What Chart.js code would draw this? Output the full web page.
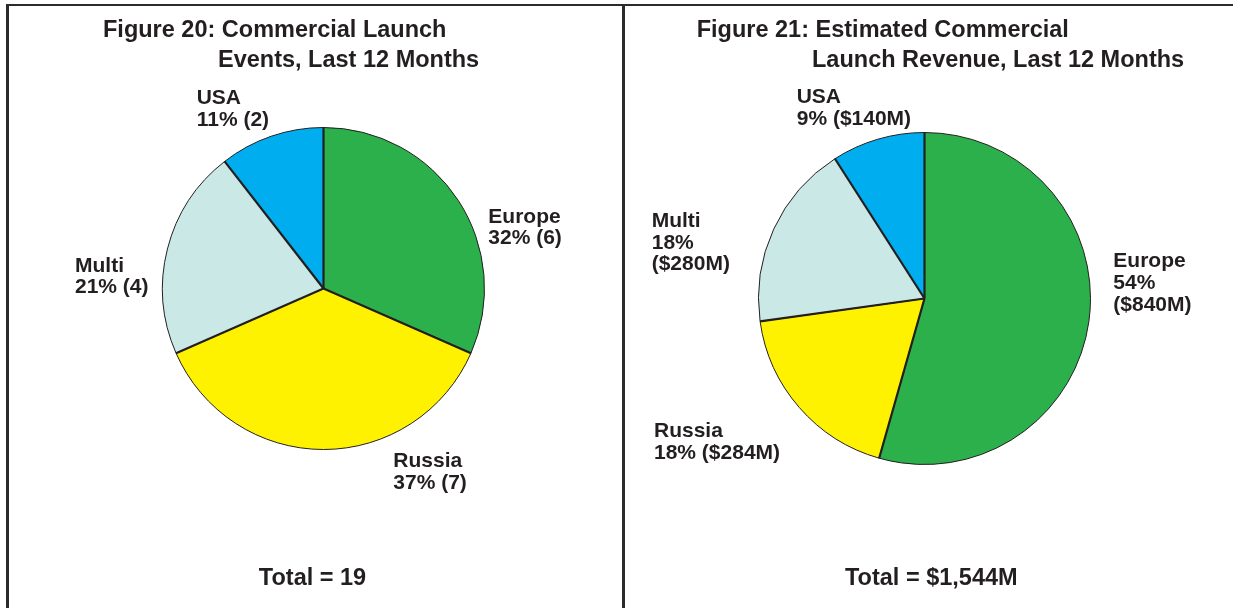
<!DOCTYPE html>
<html>
<head>
<meta charset="utf-8">
<script src="https://cdn.jsdelivr.net/npm/chart.js@4/dist/chart.umd.min.js"></script>
<style>
  html, body { margin: 0; padding: 0; background: #fff; }
  body { width: 1233px; height: 608px; position: relative; overflow: hidden; }
  canvas { position: absolute; top: 0; }
  #launchEvents { left: 0; }
  #launchRevenue { left: 623px; }
  .rule { position: absolute; background: #2b2b2b; z-index: 2; }
</style>
</head>
<body>
<div class="rule" style="left:6px; top:4px; width:1227px; height:2px;"></div>
<div class="rule" style="left:6px; top:4px; width:2.5px; height:604px;"></div>
<div class="rule" style="left:622px; top:4px; width:3px; height:604px;"></div>
<canvas id="launchEvents" width="623" height="608"></canvas>
<canvas id="launchRevenue" width="610" height="608"></canvas>
<script>
// Launch providers, clockwise from 12 o'clock
const regions = ['Europe', 'Russia', 'Multi', 'USA'];
// Commercial launch events, last 12 months
const launchEvents = [6, 7, 4, 2];
// Estimated commercial launch revenue, $M
const launchRevenue = [840, 284, 280, 140];

const sliceColors = ['#2cb04b', '#fff200', '#cae8e5', '#00aeef'];
const ink = '#231f20';
const family = '"Liberation Sans", Arial, Helvetica, sans-serif';

const sum = arr => arr.reduce((a, b) => a + b, 0);
const pct = (arr, i) => Math.round(arr[i] / sum(arr) * 100);

// darker spokes between the slices
const spokes = {
  id: 'spokes',
  afterDatasetsDraw(chart) {
    const ctx = chart.ctx;
    ctx.save();
    ctx.strokeStyle = ink;
    ctx.lineWidth = 2.2;
    chart.getDatasetMeta(0).data.forEach(arc => {
      ctx.beginPath();
      ctx.moveTo(arc.x, arc.y);
      ctx.lineTo(arc.x + Math.cos(arc.startAngle) * arc.outerRadius,
                 arc.y + Math.sin(arc.startAngle) * arc.outerRadius);
      ctx.stroke();
    });
    ctx.restore();
  }
};

// title, slice labels and total, all as canvas text
const panelText = {
  id: 'panelText',
  afterDraw(chart, args, opts) {
    const ctx = chart.ctx;
    const meta = chart.getDatasetMeta(0);
    ctx.save();
    ctx.fillStyle = ink;
    ctx.textBaseline = 'alphabetic';
    ctx.textAlign = 'left';
    ctx.font = 'bold 23.5px ' + family;
    opts.title.forEach(t => ctx.fillText(t.text, t.x, t.y));

    ctx.font = 'bold 21px ' + family;
    meta.data.forEach((arc, i) => {
      const p = opts.labels[i];
      opts.lines(i, p.wrap).forEach((line, k) => {
        ctx.fillText(line, arc.x + p.dx, arc.y + p.dy + k * opts.lineHeight);
      });
    });

    ctx.font = 'bold 23.5px ' + family;
    ctx.textAlign = 'center';
    ctx.fillText(opts.total.text, opts.total.x, opts.total.y);
    ctx.restore();
  }
};

function makePie(id, values, radius, padding, text) {
  return new Chart(document.getElementById(id), {
    type: 'pie',
    data: {
      labels: regions,
      datasets: [{
        data: values,
        backgroundColor: sliceColors,
        borderColor: ink,
        borderWidth: 1,
        radius: radius
      }]
    },
    options: {
      responsive: false,
      animation: false,
      devicePixelRatio: 1,
      layout: { padding: padding },
      events: [],
      plugins: {
        legend: { display: false },
        tooltip: { enabled: false },
        panelText: text
      }
    },
    plugins: [spokes, panelText]
  });
}

const money = v => '$' + v.toLocaleString('en-US') + 'M';

makePie('launchEvents', launchEvents, 161, { left: 24, right: 0, top: 0, bottom: 31 }, {
  title: [
    { text: 'Figure 20: Commercial Launch', x: 103, y: 36.5 },
    { text: 'Events, Last 12 Months', x: 218, y: 66.5 }
  ],
  lineHeight: 21.5,
  labels: [
    { dx: 164.8, dy: -65.8 },
    { dx: 69.8, dy: 178.8 },
    { dx: -248.5, dy: -16.8 },
    { dx: -126.8, dy: -184.5 }
  ],
  lines: i => [regions[i], pct(launchEvents, i) + '% (' + launchEvents[i] + ')'],
  total: { text: 'Total = ' + sum(launchEvents), x: 312.5, y: 584.5 }
});

makePie('launchRevenue', launchRevenue, 166, { left: 0, right: 7, top: 0, bottom: 11 }, {
  title: [
    { text: 'Figure 21: Estimated Commercial', x: 73.7, y: 36.5 },
    { text: 'Launch Revenue, Last 12 Months', x: 189, y: 66.5 }
  ],
  lineHeight: 21.8,
  labels: [
    { dx: 188.8, dy: -31.2, wrap: true },
    { dx: -270.5, dy: 138.8 },
    { dx: -272.8, dy: -71.8, wrap: true },
    { dx: -127.8, dy: -195.2 }
  ],
  lines: (i, wrap) => {
    const share = pct(launchRevenue, i) + '%';
    const amount = '(' + money(launchRevenue[i]) + ')';
    return wrap ? [regions[i], share, amount] : [regions[i], share + ' ' + amount];
  },
  total: { text: 'Total = ' + money(sum(launchRevenue)), x: 308.3, y: 585 }
});
</script>
</body>
</html>
